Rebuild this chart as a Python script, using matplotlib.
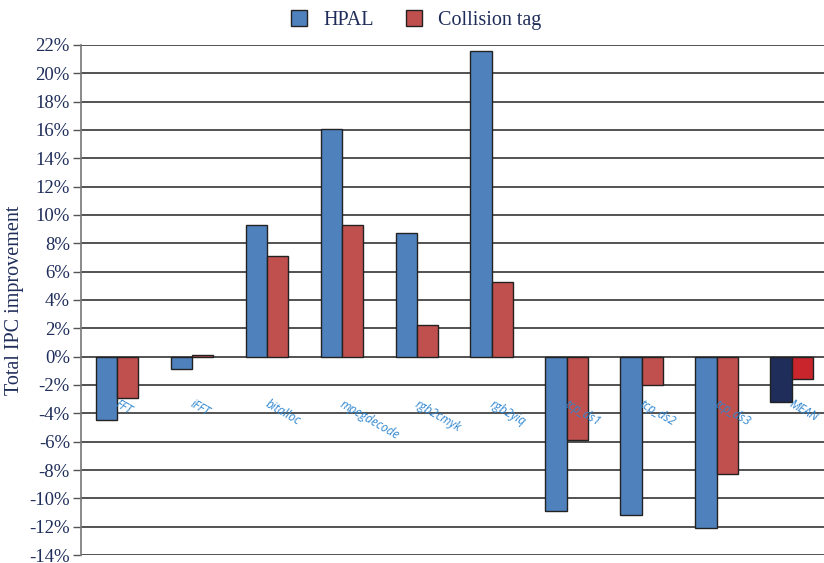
import numpy as np
import matplotlib
matplotlib.use("Agg")
import matplotlib.pyplot as plt

# Data (percent)
benchmarks = ["FFT", "iFFT", "bitalloc", "mpegdecode", "rgb2cmyk", "rgb2yiq",
              "tcp_ds1", "tcp_ds2", "tcp_ds3", "MEAN"]
hpal      = [-4.5, -0.9, 9.3, 16.1, 8.7, 21.6, -10.9, -11.2, -12.1, -3.2]
collision = [-2.9, 0.1, 7.1, 9.3, 2.2, 5.3, -5.9, -2.0, -8.3, -1.6]
yticks    = list(range(-14, 23, 2))

BLUE, RED = "#4F81BD", "#C0504D"
NAVY, DRED = "#1F2D5A", "#C8262C"
TXT = "#1F2D5A"
SERIF = ["Liberation Serif", "DejaVu Serif"]

fig = plt.figure(figsize=(8.24, 5.63), dpi=100)
ax = fig.add_axes([0.0983, 0.0142, 0.9017, 0.9059])

x = np.arange(len(benchmarks))
w = 0.285
cb = [BLUE] * (len(x) - 1) + [NAVY]
cr = [RED] * (len(x) - 1) + [DRED]
ax.bar(x - w / 2, hpal, w, color=cb, edgecolor="#222222", lw=1.0, zorder=3,
       label="HPAL")
ax.bar(x + w / 2, collision, w, color=cr, edgecolor="#222222", lw=1.0, zorder=3,
       label="Collision tag")

ax.set_xlim(-0.48, 9.43)
ax.set_ylim(-14, 22)
ax.set_yticks(yticks)
ax.set_yticklabels([f"{t}%" for t in yticks], fontsize=13.5, family=SERIF,
                   color=TXT)
ax.tick_params(axis="y", length=6, width=1, color="#555555", pad=2)
ax.set_xticks([])
ax.yaxis.grid(True, color="#444444", lw=1.3, zorder=0)
ax.set_axisbelow(True)
for s in ["top", "right", "bottom"]:
    ax.spines[s].set_visible(False)
ax.spines["left"].set_color("#777777")
ax.spines["left"].set_linewidth(1.2)

ax.set_ylabel("Total IPC improvement", fontsize=14.5, family=SERIF, color=TXT,
              labelpad=4)

# category labels, rotated, just under zero
for i, name in enumerate(benchmarks):
    ax.text(i + 0.03, -2.9, name, rotation=-30, rotation_mode="anchor",
            ha="left", va="top", fontsize=8.5, style="italic",
            color="#2F86D0", family=["Open Sans", "DejaVu Sans"], zorder=4)

handles, labels = ax.get_legend_handles_labels()
leg = fig.legend(handles, labels, loc="center", ncol=2, frameon=False,
                 bbox_to_anchor=(416 / 824, 1 - 20 / 563),
                 prop={"family": SERIF, "size": 14.5},
                 handlelength=0.8, handleheight=0.8, columnspacing=1.6,
                 handletextpad=0.8)
for t in leg.get_texts():
    t.set_color(TXT)

fig.savefig("out.png", dpi=100, facecolor="white")
